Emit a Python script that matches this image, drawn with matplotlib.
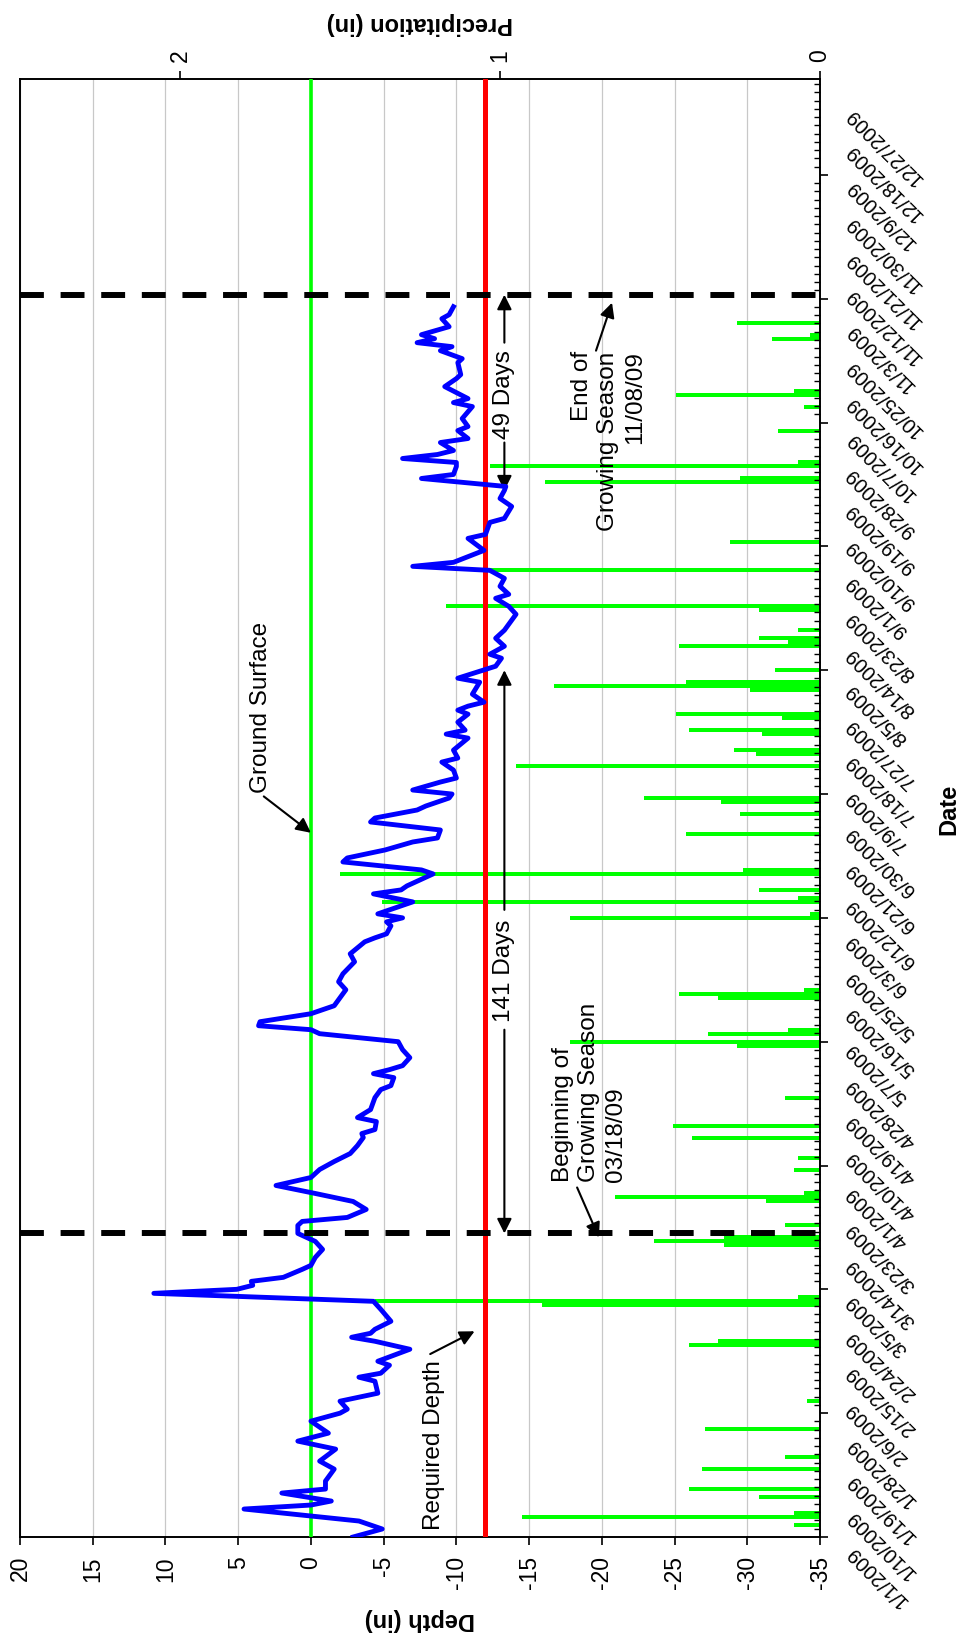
import numpy as np
import pandas as pd
import matplotlib
matplotlib.use("Agg")
import matplotlib.pyplot as plt
import matplotlib.transforms as mtransforms
from matplotlib.ticker import FixedLocator

plt.rcParams['font.family'] = ['Liberation Sans', 'DejaVu Sans']

# -----------------------------
# DATA
# -----------------------------

# Water table readings: day of year (0 = 1/1/2009) and depth relative to ground (in)
depth_day = [0, 2, 4, 7, 8, 9, 11, 12, 14, 17, 19, 22, 24, 26, 29, 31, 32, 34, 36, 39,
             40, 41, 43, 44, 47, 49, 50, 51, 52, 54, 57, 59, 61, 62, 63, 64, 65, 67, 68, 70,
             72, 74, 76, 78, 79, 80, 82, 84, 86, 88, 90, 92, 94, 96, 98, 100, 101, 102, 104, 105,
             107, 110, 112, 113, 115, 116, 117, 118, 120, 122, 124, 126, 127, 128, 129, 131, 133, 137, 139, 141,
             144, 146, 149, 150, 151, 153, 154, 155, 156, 158, 159, 161, 162, 163, 166, 167, 169, 170, 172, 174,
             175, 177, 179, 180, 182, 183, 185, 186, 187, 189, 190, 192, 194, 195, 197, 200, 201, 202, 204, 206,
             207, 208, 209, 211, 214, 215, 218, 220, 221, 223, 225, 227, 231, 233, 235, 236, 238, 240, 242, 243,
             244, 247, 250, 251, 254, 255, 258, 260, 262, 263, 265, 266, 268, 269, 270, 271, 272, 274, 275, 277,
             278, 280, 283, 284, 285, 288, 290, 291, 294, 295, 297, 298, 299, 300, 301, 303, 305, 306, 308]
depth_in = [-2.9, -4.9, -3.3, 4.6, 0.0, -1.4, 2.0, -1.0, -1.0, -1.6, -0.6, -1.7, 0.9, -1.2, 0.0, -2.0, -2.5, -2.0, -4.6, -4.4,
            -3.3, -4.8, -5.4, -4.6, -6.8, -4.4, -2.8, -4.1, -4.4, -5.5, -4.8, -4.3, 10.8, 5.1, 4.0, 4.1, 1.9, 0.6, 0.0, -0.3,
            -0.8, -0.3, 0.9, 0.9, 0.6, -2.5, -3.8, -2.9, -0.3, 2.4, 0.0, -0.6, -1.6, -2.7, -3.2, -3.6, -3.5, -4.4, -4.5, -3.2,
            -4.1, -4.4, -4.8, -5.5, -5.7, -4.3, -5.4, -6.3, -6.8, -6.3, -6.0, -0.6, 0.0, 3.6, 3.5, 0.0, -1.6, -2.4, -1.9, -2.2,
            -3.0, -2.7, -3.7, -4.4, -5.2, -5.5, -5.2, -6.3, -4.6, -6.2, -7.0, -4.3, -6.2, -6.6, -8.4, -7.6, -2.2, -2.5, -5.1, -7.0,
            -8.7, -8.9, -4.1, -4.4, -7.3, -7.9, -9.5, -9.7, -7.0, -8.9, -10.0, -9.8, -9.0, -10.1, -9.8, -10.8, -9.3, -10.6, -10.1, -10.8,
            -10.1, -10.8, -11.9, -11.1, -11.6, -10.1, -12.7, -13.1, -12.3, -13.3, -12.7, -13.3, -14.1, -13.6, -12.7, -13.6, -13.0, -13.3, -12.3, -7.0,
            -9.8, -11.9, -10.8, -12.0, -12.3, -13.3, -13.8, -13.0, -13.3, -13.4, -7.6, -9.8, -10.0, -10.0, -6.3, -8.7, -9.8, -8.9, -10.8, -10.1,
            -10.8, -10.4, -11.1, -9.8, -10.8, -9.2, -10.0, -10.3, -10.1, -10.4, -8.9, -9.7, -7.3, -8.5, -7.6, -9.5, -9.0, -9.5, -9.8]

# Daily rainfall: day of year and total (in)
rain_day = [3, 5, 6, 10, 12, 17, 20, 27, 34, 48, 49, 58, 59, 60, 73, 74, 75, 78, 84, 85,
            86, 92, 95, 100, 103, 110, 123, 124, 126, 127, 135, 136, 137, 155, 156, 159, 160, 162, 166, 167,
            176, 181, 184, 185, 193, 196, 197, 201, 202, 205, 206, 212, 213, 214, 217, 223, 224, 225, 227, 232,
            233, 242, 249, 264, 265, 268, 269, 277, 283, 286, 287, 300, 301, 304]
rain_in = [0.08, 0.93, 0.08, 0.19, 0.41, 0.37, 0.11, 0.36, 0.04, 0.41, 0.32, 0.87, 1.39, 0.07, 0.30, 0.52, 0.30, 0.11, 0.17, 0.64,
           0.05, 0.08, 0.07, 0.40, 0.46, 0.11, 0.26, 0.78, 0.35, 0.10, 0.32, 0.44, 0.05, 0.78, 0.03, 1.37, 0.07, 0.19, 1.50, 0.24,
           0.42, 0.25, 0.31, 0.55, 0.95, 0.20, 0.27, 0.18, 0.41, 0.12, 0.45, 0.22, 0.83, 0.42, 0.14, 0.44, 0.10, 0.19, 0.07, 0.19,
           1.17, 1.05, 0.28, 0.86, 0.25, 1.03, 0.07, 0.13, 0.05, 0.45, 0.08, 0.15, 0.03, 0.26]

ground_level = 0
required_depth = -12
season_start = "2009-03-18"
season_end = "2009-11-08"
wet_days_spring = 141
wet_days_fall = 49

depth_ticks = [20, 15, 10, 5, 0, -5, -10, -15, -20, -25, -30, -35]
rain_ticks = [0, 1, 2]

# date labels every 9 days through the year
year_start = pd.Timestamp("2009-01-01")
label_dates = pd.date_range("2009-01-01", "2009-12-31", freq="9D")
label_day = [(d - year_start).days for d in label_dates]
label_txt = [f"{d.month}/{d.day}/{d.year}" for d in label_dates]

start_day = (pd.Timestamp(season_start) - year_start).days
end_day = (pd.Timestamp(season_end) - year_start).days

# -----------------------------
# FIGURE
# -----------------------------

fig = plt.figure(figsize=(9.67, 16.4), dpi=100)
ax = fig.add_axes([0.0207, 0.0622, 0.8273, 0.8890])
ax2 = ax.twiny()

# rainfall axes sits underneath the depth axes
ax.set_zorder(2)
ax2.set_zorder(1)
ax.patch.set_visible(False)

ax.set_xlim(20, -35)
ax.set_ylim(0, 365)
ax2.set_xlim(2.5, 0)

# gridlines at the depth ticks, kept behind the rain bars
grid_tr = mtransforms.blended_transform_factory(ax.transData, ax2.transAxes)
for d in depth_ticks:
    ax2.plot([d, d], [0, 1], transform=grid_tr, color='#c8c8c8', lw=0.9,
             zorder=1, scalex=False, scaley=False)

ax2.barh(rain_day, rain_in, height=1.0, color='#00ff00', edgecolor='none', zorder=2)

ax.axvline(ground_level, color='#00ff00', lw=2.6, zorder=3)
ax.axvline(required_depth, color='#ff0000', lw=3.6, zorder=3)
ax.plot(depth_in, depth_day, color='#0000ff', lw=3.5, zorder=4, solid_joinstyle='round')

for d in (start_day, end_day):
    ax.axhline(d, color='black', lw=4.3, ls=(0, (4, 2.8)), zorder=5)

# -----------------------------
# AXES
# -----------------------------

ax.set_xticks(depth_ticks, labels=[str(t) for t in depth_ticks])
ax.tick_params(axis='x', direction='out', length=6, width=1.2, labelsize=16.5,
               labelrotation=90, pad=7)
ax.set_xlabel('Depth (in)', fontsize=17, fontweight='bold', rotation=180)
ax.xaxis.set_label_coords(0.5, -0.0556)
ax.xaxis.label.set_va('center')

ax2.set_xticks(rain_ticks, labels=[str(t) for t in rain_ticks])
ax2.tick_params(axis='x', direction='out', length=6, width=1.2, labelsize=16.5,
                labelrotation=90, pad=7)
ax2.set_xlabel('Precipitation (in)', fontsize=17, fontweight='bold', rotation=180)
ax2.xaxis.set_label_position('top')
ax2.xaxis.set_label_coords(0.5, 1.039)
ax2.xaxis.label.set_va('center')

ax.yaxis.tick_right()
ax.set_yticks(np.arange(0, 366, 31))
ax.yaxis.set_minor_locator(FixedLocator(np.arange(0, 365, 31 / 15)))
ax.tick_params(axis='y', which='major', direction='out', length=6, width=1.2,
               labelright=False, labelleft=False)
ax.tick_params(axis='y', which='minor', direction='in', length=4, width=1)

lab_tr = ax.get_yaxis_transform() + mtransforms.ScaledTranslation(0.29, -0.11, fig.dpi_scale_trans)
for d, s in zip(label_day, label_txt):
    ax.text(1, d, s, transform=lab_tr, rotation=135, rotation_mode='anchor',
            ha='right', va='center', fontsize=14.5)

ax.set_ylabel('Date', fontsize=17, fontweight='bold')
ax.yaxis.set_label_position('right')
ax.yaxis.set_label_coords(1.161, 0.5)
ax.yaxis.label.set_va('center')
ax.yaxis.label.set_ha('center')

for a in (ax, ax2):
    for sp in a.spines.values():
        sp.set_linewidth(1.2)
        sp.set_color('black')

# -----------------------------
# ANNOTATIONS
# -----------------------------

arrow = dict(arrowstyle='-|>', color='black', lw=1.5, mutation_scale=22, shrinkA=0, shrinkB=0)
note = dict(rotation=90, fontsize=17.5, zorder=6)

ax.text(3.4, 208, 'Ground Surface', ha='center', va='center', **note)
ax.annotate('', xy=(ground_level, 176.3), xytext=(3.24, 185.4), arrowprops=arrow)

ax.text(-8.43, 23.3, 'Required Depth', ha='center', va='center', **note)
ax.annotate('', xy=(-11.25, 51.5), xytext=(-8.2, 45.8), arrowprops=arrow)

ax.text(-19.15, 89, 'Beginning of\nGrowing Season\n03/18/09', ha='center', va='bottom',
        multialignment='left', linespacing=1.25, **note)
ax.annotate('', xy=(-19.8, start_day - 1), xytext=(-18.3, 87.5), arrowprops=arrow)

ax.text(-20.45, 297.1, 'End of\nGrowing Season\n11/08/09', ha='center', va='top',
        multialignment='right', linespacing=1.25, **note)
ax.annotate('', xy=(-20.7, 309), xytext=(-19.6, 297), arrowprops=arrow)

# span arrows for the periods with the water table above the required depth
span_x = -13.3
ax.text(span_x, 142, f'{wet_days_spring} Days', ha='center', va='center', **note)
ax.annotate('', xy=(span_x, start_day), xytext=(span_x, 127), arrowprops=arrow)
ax.annotate('', xy=(span_x, start_day + wet_days_spring), xytext=(span_x, 157), arrowprops=arrow)

ax.text(span_x, 286.3, f'{wet_days_fall} Days', ha='center', va='center', **note)
ax.annotate('', xy=(span_x, end_day - wet_days_fall), xytext=(span_x, 274), arrowprops=arrow)
ax.annotate('', xy=(span_x, end_day), xytext=(span_x, 299), arrowprops=arrow)

ax.set_ylim(0, 365)

plt.savefig("out.png", dpi=100)
print("Chart Saved Successfully!")
